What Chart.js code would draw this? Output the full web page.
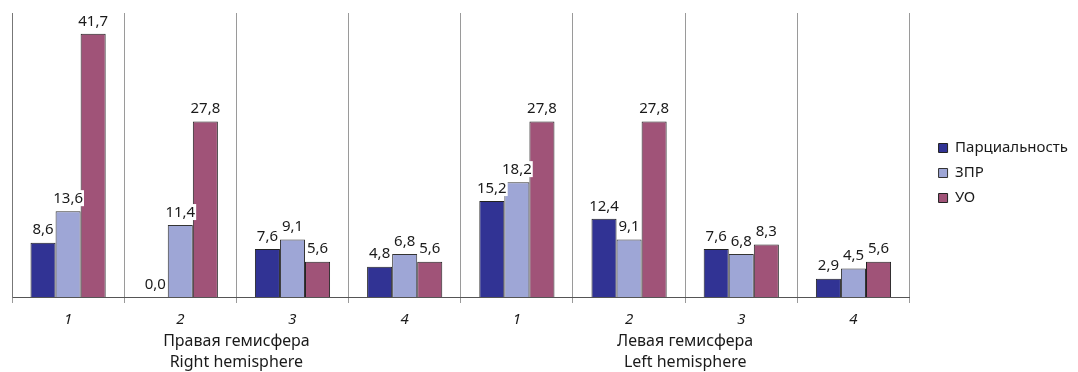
<!DOCTYPE html>
<html>
<head>
<meta charset="utf-8">
<script src="https://cdn.jsdelivr.net/npm/chart.js@4"></script>
<style>
  html, body { margin: 0; padding: 0; background: #fff; }
  #wrap { width: 1078px; height: 372px; }
</style>
</head>
<body>
<div id="wrap"><canvas id="barChart"></canvas></div>
<script>
// data
var categories = ['1', '2', '3', '4', '1', '2', '3', '4'];
var partial = [8.6, 0.0, 7.6, 4.8, 15.2, 12.4, 7.6, 2.9];
var zpr = [13.6, 11.4, 9.1, 6.8, 18.2, 9.1, 6.8, 4.5];
var uo = [41.7, 27.8, 5.6, 5.6, 27.8, 27.8, 8.3, 5.6];
var seriesNames = ['Парциальность', 'ЗПР', 'УО'];
var groupLabels = [['Правая гемисфера', 'Right hemisphere'], ['Левая гемисфера', 'Left hemisphere']];

var fontName = '"Noto Sans", sans-serif';

// values over the bars, comma decimals, white box behind
var valueLabels = {
  id: 'valueLabels',
  afterDatasetsDraw: function(chart){
    var ctx = chart.ctx;
    ctx.save();
    ctx.font = '15px ' + fontName;
    ctx.textAlign = 'center';
    ctx.textBaseline = 'bottom';
    chart.data.datasets.forEach(function(ds, i){
      var meta = chart.getDatasetMeta(i);
      meta.data.forEach(function(bar, j){
        var txt = ds.data[j].toFixed(1).replace('.', ',');
        var w = ctx.measureText(txt).width;
        var y = bar.y - 5;
        ctx.fillStyle = '#fff';
        ctx.fillRect(bar.x - w/2 - 1, y - 16, w + 2, 16);
        ctx.fillStyle = '#1a1a1a';
        ctx.fillText(txt, bar.x, y);
      });
    });
    ctx.restore();
  }
};

// hemisphere captions under the category numbers
var groupCaptions = {
  id: 'groupCaptions',
  afterDraw: function(chart){
    var ctx = chart.ctx;
    var xs = chart.scales.x;
    ctx.save();
    ctx.font = '16px ' + fontName;
    ctx.fillStyle = '#1a1a1a';
    ctx.textAlign = 'center';
    ctx.textBaseline = 'middle';
    groupLabels.forEach(function(lines, g){
      var cx = (xs.getPixelForValue(g*4 + 1) + xs.getPixelForValue(g*4 + 2)) / 2;
      ctx.fillText(lines[0], cx, 341);
      ctx.fillText(lines[1], cx, 362);
    });
    ctx.restore();
  }
};

var ctx = document.getElementById('barChart');
var chart = new Chart(ctx, {
  type: 'bar',
  data: {
    labels: categories,
    datasets: [{
      label: seriesNames[0],
      data: partial,
      backgroundColor: '#313394',
      borderColor: '#222',
      borderWidth: 1
    },{
      label: seriesNames[1],
      data: zpr,
      backgroundColor: '#9ea6d6',
      borderColor: '#333',
      borderWidth: 1
    },{
      label: seriesNames[2],
      data: uo,
      backgroundColor: '#a05378',
      borderColor: '#222',
      borderWidth: 1
    }]
  },
  options: {
    responsive: true,
    maintainAspectRatio: false,
    animation: false,
    layout: { padding: { left: 12, top: 13, right: 0, bottom: 39 } },
    datasets: { bar: { categoryPercentage: 0.67, barPercentage: 1.0 } },
    plugins: {
      legend: {
        position: 'right',
        labels: {
          boxWidth: 9,
          boxHeight: 9,
          padding: 10,
          color: '#1a1a1a',
          font: { family: fontName, size: 15 }
        }
      },
      tooltip: { enabled: false }
    },
    scales: {
      x: {
        grid: {
          offset: true,
          color: '#9a9a9a',
          tickLength: 6,
          drawOnChartArea: true
        },
        border: { color: '#555', width: 1 },
        ticks: {
          color: '#1a1a1a',
          padding: 8,
          font: { family: fontName, size: 15, style: 'italic' }
        },
        afterFit: function(s){ s.height = 36; }
      },
      y: {
        min: 0,
        max: 45,
        grid: { display: false },
        border: { color: '#777', width: 1 },
        ticks: { display: false },
        afterFit: function(s){ s.width = 0; }
      },
      // empty spacer between plot and legend
      gap: {
        position: 'right',
        display: true,
        grid: { display: false },
        border: { display: false },
        ticks: { display: false },
        afterFit: function(s){ s.width = 19; }
      }
    }
  },
  plugins: [valueLabels, groupCaptions]
});
</script>
</body>
</html>
